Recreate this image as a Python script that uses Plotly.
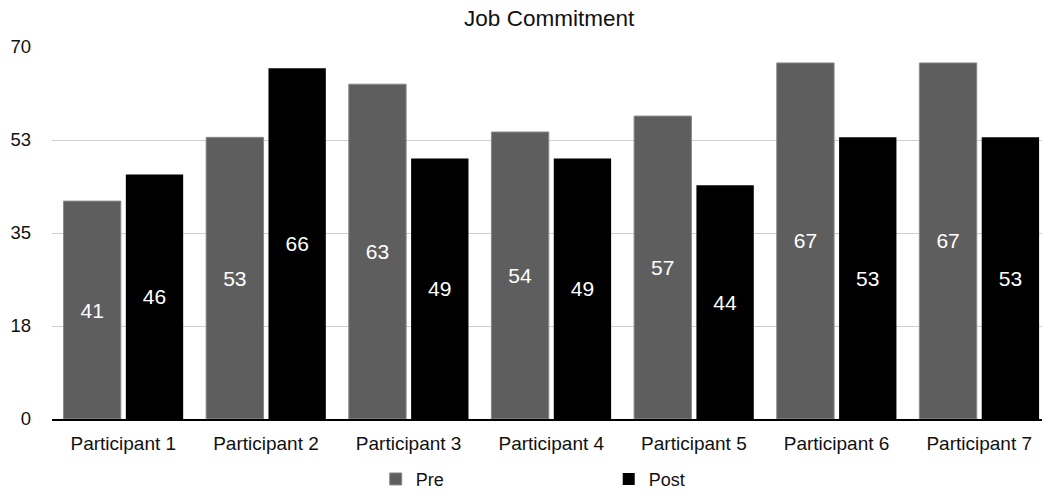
import plotly.graph_objects as go

categories = ["Participant 1", "Participant 2", "Participant 3", "Participant 4",
              "Participant 5", "Participant 6", "Participant 7"]
pre_values = [41, 53, 63, 54, 57, 67, 67]
post_values = [46, 66, 49, 49, 44, 53, 53]
tick_vals = [0, 17.5, 35, 52.5, 70]
tick_text = ["0", "18", "35", "53", "70"]

FONT = "Liberation Sans, Arial, Helvetica, sans-serif"

fig = go.Figure()
fig.add_trace(go.Bar(
    name="Pre", x=categories, y=pre_values,
    marker=dict(color="#5e5e5e", line=dict(color="#8a8a8a", width=1)),
    text=[str(v) for v in pre_values], textposition="inside",
    insidetextanchor="middle",
    textfont=dict(color="white", size=21, family=FONT),
))
fig.add_trace(go.Bar(
    name="Post", x=categories, y=post_values,
    marker=dict(color="#000000", line=dict(color="#000000", width=0)),
    text=[str(v) for v in post_values], textposition="inside",
    insidetextanchor="middle",
    textfont=dict(color="white", size=21, family=FONT),
))

fig.update_layout(
    width=1042, height=492,
    margin=dict(l=52, r=0, t=47, b=73, autoexpand=False),
    paper_bgcolor="white", plot_bgcolor="white",
    barmode="group", bargap=0.126, bargroupgap=0.08,
    title=dict(text="Job Commitment", x=0.527, xanchor="center", y=0.963, yanchor="middle",
               font=dict(family=FONT, size=22.5, color="#111")),
    font=dict(family=FONT, color="#111"),
    showlegend=True,
    legend=dict(orientation="h", x=0.327, xanchor="left", y=-0.162, yanchor="middle",
                entrywidth=188, entrywidthmode="pixels", tracegroupgap=0,
                font=dict(size=18, family=FONT, color="#111")),
    xaxis=dict(range=[-0.5, 6.44], showgrid=False, showline=True, linecolor="#000",
               linewidth=1.5, ticks="", tickfont=dict(size=19, family=FONT, color="#111"),
               ticklabelstandoff=6, zeroline=False),
    yaxis=dict(range=[0, 70], tickvals=tick_vals, ticktext=tick_text,
               showgrid=True, gridcolor="#cfcfcf", gridwidth=1, zeroline=False,
               showline=False, ticks="", ticklabelstandoff=20,
               tickfont=dict(size=18.5, family=FONT, color="#111")),
)

fig.write_html("out.html")
